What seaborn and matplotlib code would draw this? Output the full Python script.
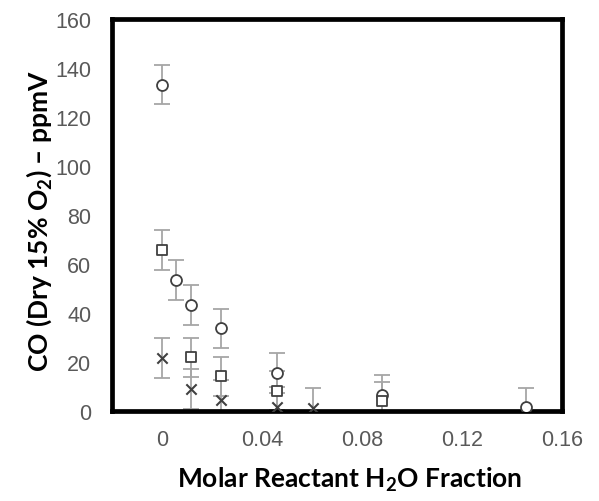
import matplotlib
matplotlib.use("Agg")
import matplotlib.pyplot as plt
import seaborn as sns
import pandas as pd

# ---- data ----
circle_x = [0.0, 0.0056, 0.0116, 0.0235, 0.0459, 0.0881, 0.1455]
circle_y = [133.2, 53.5, 43.3, 33.7, 15.5, 6.5, 1.5]
square_x = [0.0, 0.0116, 0.0235, 0.0459, 0.0881]
square_y = [65.7, 21.9, 14.2, 8.3, 3.9]
cross_x = [0.0, 0.0116, 0.0235, 0.0459, 0.0605]
cross_y = [21.6, 9.0, 4.6, 1.8, 1.2]
err = 8.0

x_ticks = [-0.02, 0.0, 0.02, 0.04, 0.06, 0.08, 0.10, 0.12, 0.14, 0.16]
x_labels = ["", "0", "", "0.04", "", "0.08", "", "0.12", "", "0.16"]
y_ticks = [0, 20, 40, 60, 80, 100, 120, 140, 160]
y_labels = ["0", "20", "40", "60", "80", "100", "120", "140", "160"]

sns.set_theme(style="white")
plt.rcParams["font.family"] = ["Liberation Sans", "DejaVu Sans"]
plt.rcParams["mathtext.fontset"] = "custom"
plt.rcParams["mathtext.rm"] = "Lato"
plt.rcParams["mathtext.bf"] = "Lato:bold"

fig = plt.figure(figsize=(5.99, 5.02), dpi=100)
ax = fig.add_axes([112 / 599, 90 / 502, 450 / 599, 392 / 502])

edge = "#404040"
ebar = "#A6A6A6"

series = [
    (circle_x, circle_y, "o"),
    (square_x, square_y, "s"),
    (cross_x, cross_y, "X"),
]

for xs, ys, m in series:
    ax.errorbar(xs, ys, yerr=[err] * len(xs), fmt="none", ecolor=ebar,
                elinewidth=1.3, capsize=6, capthick=1.3, zorder=2)

for xs, ys, m in series:
    df = pd.DataFrame({"x": xs, "y": ys})
    if m == "X":
        sns.scatterplot(data=df, x="x", y="y", marker="x", color=edge,
                        s=55, linewidth=1.5, ax=ax, zorder=3)
    else:
        sns.scatterplot(data=df, x="x", y="y", marker=m, facecolor="white",
                        edgecolor=edge, s=62 if m == "o" else 58,
                        linewidth=1.3, ax=ax, zorder=3)

ax.set_xlim(-0.02, 0.16)
ax.set_ylim(0, 160)
ax.set_xticks(x_ticks)
ax.set_xticklabels(x_labels)
ax.set_yticks(y_ticks)
ax.set_yticklabels(y_labels)
ax.set_xlabel("")
ax.set_ylabel("")

for s in ax.spines.values():
    s.set_visible(True)
    s.set_color("black")
    s.set_linewidth(3.4)

ax.tick_params(axis="both", direction="in", length=4, width=1.3,
               color="black", labelsize=15.5, labelcolor="#595959")
ax.tick_params(axis="x", pad=13)
ax.tick_params(axis="y", pad=15)

fig.text(350 / 599, 1 - 480 / 502,
         r"Molar Reactant H$_\mathbf{2}$O Fraction",
         ha="center", va="center", fontsize=19, fontweight="bold",
         family=["Lato", "DejaVu Sans"], color="black")
fig.text(39 / 599, 1 - 221 / 502,
         r"CO (Dry 15% O$_\mathbf{2}$) – ppmV",
         ha="center", va="center", rotation=90, fontsize=19,
         fontweight="bold", family=["Lato", "DejaVu Sans"], color="black")

fig.savefig("out.png", dpi=100)
